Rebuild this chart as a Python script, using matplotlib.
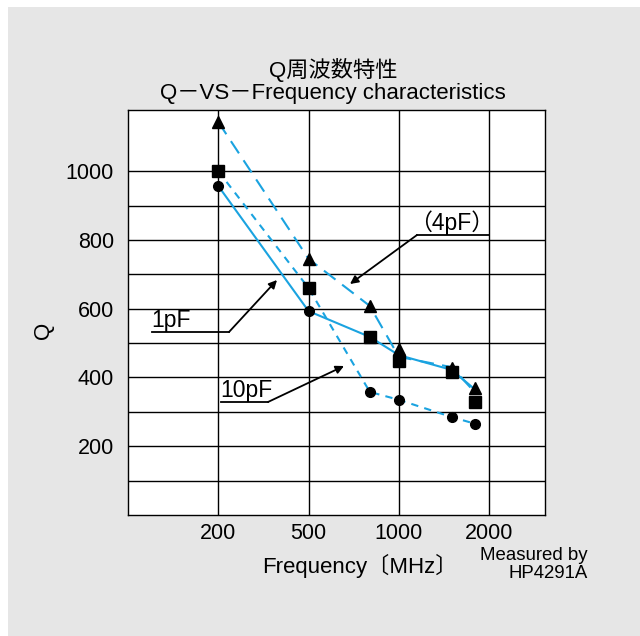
import numpy as np
import matplotlib
matplotlib.use("Agg")
import matplotlib.pyplot as plt
from matplotlib.lines import Line2D
from matplotlib.patches import Rectangle

plt.rcParams['font.family'] = ['Liberation Sans', 'Noto Sans CJK JP', 'DejaVu Sans']

# frequency points (MHz)
freq = [200, 500, 800, 1000, 1500, 1800]

# curves
q_1pf = [957, 593, 518, 465, 422, 364]
q_4pf = [1143, 745, 608, 460, 430, 355]
q_10pf = [1000, 660, 358, 335, 285, 265]

# markers as printed on the sheet
tri_q = [1143, 745, 608, 483, 428, 369]
sq_q = [1000, 660, 518, 448, 416, 329]
circ_q = [957, 593, 358, 335, 285, 265]

x_ticks = [200, 500, 1000, 2000]
y_ticks = [200, 400, 600, 800, 1000]
y_grid = [100, 200, 300, 400, 500, 600, 700, 800, 900, 1000]

BLUE = '#1aa3e0'
GREY = '#e6e6e6'

# the printed axis puts 200/500/1000/2000 at equal steps, log in between
knots_log = np.log10([100, 200, 500, 1000, 2000, 4000])
knots_idx = np.array([-1, 0, 1, 2, 3, 4], dtype=float)

def fwd(x):
    x = np.clip(np.asarray(x, dtype=float), 1e-3, None)
    return np.interp(np.log10(x), knots_log, knots_idx)

def inv(v):
    return 10 ** np.interp(np.asarray(v, dtype=float), knots_idx, knots_log)

W, H = 640, 636
fig = plt.figure(figsize=(W / 100, H / 100), dpi=100)
fig.patch.set_facecolor('white')
fig.add_artist(Rectangle((8 / W, 0), 1, (H - 7) / H, transform=fig.transFigure,
                         facecolor=GREY, edgecolor='none', zorder=-10))

def px(x, y):
    return x / W, (H - y) / H

ax = fig.add_axes([128 / W, 1 - 515 / H, (545 - 128) / W, (515 - 110) / H])
ax.set_facecolor('white')
ax.set_xscale('function', functions=(fwd, inv))
ax.set_xlim(100, 3070)
ax.set_ylim(0, 1178)

for q in y_grid:
    ax.axhline(q, color='black', lw=1.0, zorder=1)
for f in x_ticks:
    ax.axvline(f, color='black', lw=1.0, zorder=1)

ax.plot(freq, q_1pf, color=BLUE, lw=1.5, zorder=3)
ax.plot(freq, q_4pf, color=BLUE, lw=1.5, dashes=(7, 4), zorder=3)
ax.plot(freq, q_10pf, color=BLUE, lw=1.5, dashes=(3.5, 3), zorder=3)

ax.plot(freq, tri_q, '^', color='black', ms=9, zorder=5, clip_on=False)
ax.plot(freq, sq_q, 's', color='black', ms=8.5, zorder=5)
ax.plot(freq, circ_q, 'o', color='black', ms=7, zorder=5)

ax.set_xticks(x_ticks)
ax.set_xticklabels([str(v) for v in x_ticks])
ax.set_yticks(y_ticks)
ax.xaxis.set_minor_locator(matplotlib.ticker.NullLocator())
ax.tick_params(axis='x', length=0, labelsize=15.5, pad=6)
ax.tick_params(axis='y', length=0, labelsize=15.5, pad=10)
for s in ax.spines.values():
    s.set_linewidth(1.0)

ax.set_ylabel('Q', fontsize=16)
ax.yaxis.set_label_coords(-0.177, 0.457)

fig.text(*px(333, 70), 'Q周波数特性', ha='center', va='center', fontsize=16)
fig.text(*px(333, 94), 'Q－VS－Frequency characteristics', ha='center', va='center', fontsize=16)
fig.text(*px(360, 566), 'Frequency〔MHz〕', ha='center', va='center', fontsize=16)
fig.text(*px(588, 555), 'Measured by', ha='right', va='center', fontsize=13.4)
fig.text(*px(588, 574), 'HP4291A', ha='right', va='center', fontsize=13.4)

# labels with leader lines
labels = [
    ('1pF', (152, 229, 332), (229, 332), (277, 280), 151, 'left'),
    ('10pF', (221, 268, 402), (268, 402), (344, 366), 220, 'left'),
    ('（4pF）', (417, 489, 235), (417, 235), (350, 284), 452, 'center'),
]
for txt, (x0, x1, yl), start, head, tx, ha in labels:
    fig.add_artist(Line2D([x0 / W, x1 / W], [(H - yl) / H] * 2, color='black',
                          lw=1.3, transform=fig.transFigure, zorder=6))
    ax.annotate('', xy=px(*head), xytext=px(*start), xycoords='figure fraction',
                textcoords='figure fraction',
                arrowprops=dict(arrowstyle='-|>', color='black', lw=1.3,
                                mutation_scale=12, shrinkA=0, shrinkB=0), zorder=6)
    fig.text(*px(tx, yl - 5), txt, ha=ha, va='baseline', fontsize=16.5, zorder=6)

fig.savefig('out.png', dpi=100)
